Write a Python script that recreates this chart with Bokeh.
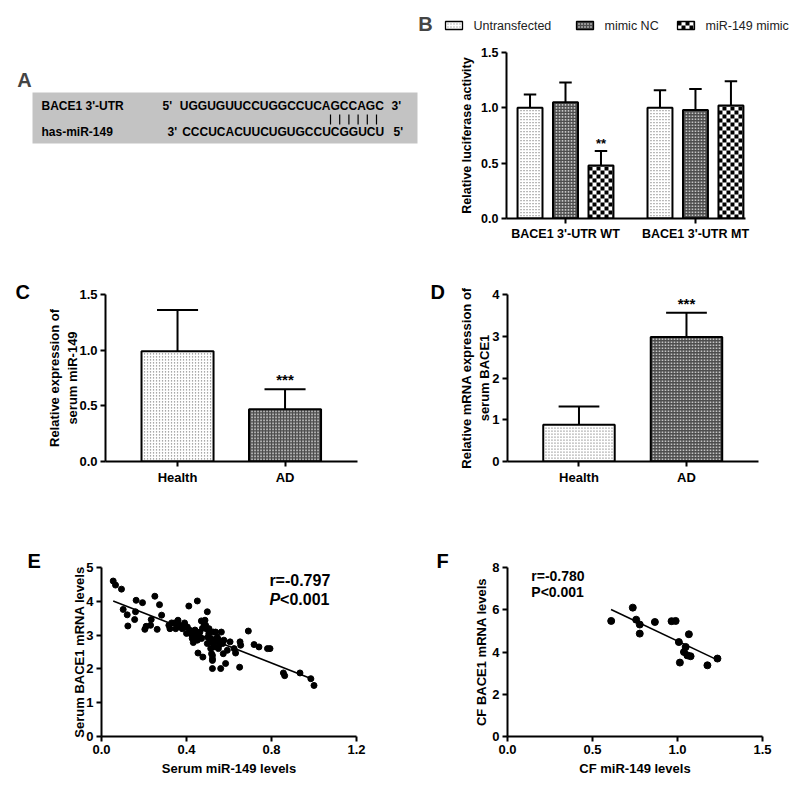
import math
from bokeh.plotting import figure
from bokeh.models import Range1d, Label, FixedTicker, PrintfTickFormatter
from bokeh.layouts import column, row
from bokeh.embed import file_html
from bokeh.resources import INLINE
from bokeh.core.properties import value

FONT = "Liberation Sans"

# ---------------- data ----------------
# Panel A (sequence alignment)
a_names = ["BACE1 3'-UTR", "has-miR-149"]
a_left_ends = ["5'", "3'"]
a_sequences = ["UGGUGUUCCUGGCCUCAGCCAGC", "CCCUCACUUCUGUGCCUCGGUCU"]
a_right_ends = ["3'", "5'"]
a_pair_count = 6

# Panel B (luciferase)
b_groups = ["BACE1 3'-UTR WT", "BACE1 3'-UTR MT"]
b_series = ["Untransfected", "mimic NC", "miR-149 mimic"]
b_untransfected = [1.00, 1.00]
b_untransfected_sd = [0.12, 0.16]
b_mimic_nc = [1.05, 0.98]
b_mimic_nc_sd = [0.18, 0.19]
b_mir149_mimic = [0.48, 1.02]
b_mir149_mimic_sd = [0.13, 0.22]
b_mir149_sig = ["**", ""]
b_yticks = [0.0, 0.5, 1.0, 1.5]

# Panel C
c_groups = ["Health", "AD"]
c_mean = [0.99, 0.47]
c_sd = [0.37, 0.18]
c_sig = ["", "***"]
c_yticks = [0.0, 0.5, 1.0, 1.5]

# Panel D
d_groups = ["Health", "AD"]
d_mean = [0.88, 2.98]
d_sd = [0.44, 0.58]
d_sig = ["", "***"]
d_yticks = [0, 1, 2, 3, 4]

# Panel E (serum scatter)
e_x = [0.055, 0.066, 0.094, 0.163, 0.193, 0.251, 0.273, 0.102, 0.121, 0.124,
       0.156, 0.160, 0.204, 0.210, 0.231, 0.234, 0.262, 0.283, 0.317, 0.322,
       0.330, 0.344, 0.349, 0.360, 0.367, 0.380, 0.391, 0.404, 0.411, 0.416,
       0.423, 0.427, 0.432, 0.451, 0.443, 0.451, 0.454, 0.463, 0.471, 0.477,
       0.482, 0.487, 0.493, 0.498, 0.500, 0.509, 0.514, 0.518, 0.522, 0.522,
       0.526, 0.537, 0.545, 0.553, 0.561, 0.564, 0.576, 0.584, 0.592, 0.490,
       0.506, 0.526, 0.553, 0.498, 0.529, 0.522, 0.522, 0.573, 0.605, 0.624,
       0.631, 0.652, 0.655, 0.650, 0.691, 0.718, 0.741, 0.781, 0.793, 0.856,
       0.862, 0.934, 0.985, 1.000, 0.400, 0.435, 0.460, 0.475, 0.505, 0.515,
       0.535, 0.550, 0.570, 0.440, 0.470, 0.390, 0.360]
e_y = [4.60, 4.48, 4.36, 4.03, 3.96, 4.15, 3.90, 3.76, 3.60, 3.27,
       3.46, 3.69, 3.17, 3.26, 3.29, 3.46, 3.17, 3.59, 3.29, 3.19,
       3.36, 3.36, 3.19, 3.44, 3.29, 3.19, 3.36, 3.24, 3.86, 3.14,
       3.02, 2.90, 2.78, 4.01, 2.94, 2.85, 2.47, 3.09, 2.90, 2.35,
       3.34, 3.44, 3.19, 3.69, 2.94, 2.80, 2.60, 2.45, 2.30, 2.01,
       2.75, 3.09, 2.94, 2.70, 2.01, 3.09, 2.85, 2.16, 2.55, 3.29,
       3.19, 3.09, 2.85, 2.75, 2.65, 2.40, 2.25, 2.45, 2.80, 2.60,
       2.47, 2.80, 2.70, 2.05, 3.12, 2.72, 2.65, 2.60, 2.60, 1.88,
       1.80, 1.88, 1.71, 1.51, 3.05, 3.00, 2.98, 3.20, 3.05, 2.90,
       2.85, 2.60, 2.75, 3.15, 3.42, 3.30, 3.25]
e_fit_x = [0.055, 1.0]
e_fit_y = [4.01, 1.68]
e_r_text = "r=-0.797"
e_p_symbol = "P"
e_p_text = "<0.001"

# Panel F (CF scatter)
f_x = [0.610, 0.737, 0.757, 0.778, 0.778, 0.867, 0.965, 0.989, 1.067, 1.008,
       1.048, 1.038, 1.058, 1.077, 1.014, 1.176, 1.235]
f_y = [5.47, 6.10, 5.53, 5.30, 4.87, 5.42, 5.46, 5.47, 4.84, 4.47,
       4.24, 4.00, 3.84, 3.80, 3.50, 3.37, 3.69]
f_fit_x = [0.609, 1.231]
f_fit_y = [6.01, 3.64]
f_r_text = "r=-0.780"
f_p_text = "P<0.001"

# ---------------- fill patterns (drawn as marks) ----------------
SERIES_KEYS = ["dots", "fine", "checker"]
BASE_FILL = {"dots": "white", "fine": "#4d4d4d", "checker": "white"}


def dot_grid(x0, x1, y0, y1, sx, sy, step, inset):
    w = (x1 - x0) * sx - 2 * inset
    h = (y1 - y0) * sy - 2 * inset
    nx, ny = int(w // step) + 1, int(h // step) + 1
    if w <= 0 or h <= 0:
        return [], []
    ox = inset + (w - (nx - 1) * step) / 2
    oy = inset + (h - (ny - 1) * step) / 2
    xs, ys = [], []
    for i in range(nx):
        for j in range(ny):
            xs.append(x0 + (ox + i * step) / sx)
            ys.append(y0 + (oy + j * step) / sy)
    return xs, ys


def draw_pattern(p, key, x0, x1, y0, y1, sx, sy):
    if key == "dots":
        xs, ys = dot_grid(x0, x1, y0, y1, sx, sy, 3, 2)
        p.scatter(xs, ys, marker="square", size=1.2, fill_color="#8c8c8c", line_color=None)
    elif key == "fine":
        xs, ys = dot_grid(x0, x1, y0, y1, sx, sy, 3, 2)
        p.scatter(xs, ys, marker="square", size=1.6, fill_color="#c4c4c4", line_color=None)
    else:
        cell = 4
        W, H = (x1 - x0) * sx, (y1 - y0) * sy
        L, R, T, B = [], [], [], []
        for i in range(math.ceil(W / cell)):
            for j in range(math.ceil(H / cell)):
                if (i + j) % 2 == 0:
                    L.append(x0 + i * cell / sx)
                    R.append(min(x1, x0 + (i + 1) * cell / sx))
                    B.append(y0 + j * cell / sy)
                    T.append(min(y1, y0 + (j + 1) * cell / sy))
        p.quad(left=L, right=R, top=T, bottom=B, fill_color="black", line_color=None)


def patterned_bars(p, xs, tops, key, width, sx, sy):
    p.vbar(x=xs, top=tops, bottom=0, width=width, fill_color=BASE_FILL[key], line_color=None)
    for x, t in zip(xs, tops):
        draw_pattern(p, key, x - width / 2, x + width / 2, 0, t, sx, sy)
    p.vbar(x=xs, top=tops, bottom=0, width=width, fill_color=None,
           line_color="black", line_width=2)


def err_bars(p, xs, means, sds, cap):
    tops = [m + s for m, s in zip(means, sds)]
    p.segment(x0=xs, x1=xs, y0=means, y1=tops, line_color="black", line_width=2)
    p.segment(x0=[x - cap / 2 for x in xs], x1=[x + cap / 2 for x in xs],
              y0=tops, y1=tops, line_color="black", line_width=2)
    return tops


def plain_fig(width, height, xr, yr, **borders):
    p = figure(width=width, height=height, x_range=xr, y_range=yr,
               output_backend="svg", toolbar_location=None,
               x_axis_location=None, y_axis_location=None, **borders)
    p.grid.visible = False
    p.outline_line_color = None
    return p


def base_fig(width, height, xr, yr, left, right, top, bottom, letter, letter_offset, letter_standoff):
    p = figure(width=width, height=height, x_range=xr, y_range=yr,
               output_backend="svg", toolbar_location=None, title=letter,
               min_border_left=left, min_border_right=right,
               min_border_top=top, min_border_bottom=bottom)
    p.grid.visible = False
    p.outline_line_color = None
    p.title.align = "left"
    p.title.offset = letter_offset
    p.title.standoff = letter_standoff
    p.title.text_font = FONT
    p.title.text_font_style = "bold"
    p.title.text_font_size = "20px"
    p.title.text_color = "black"
    return p


def style_axes(p, tick_size="13px", label_size="13px"):
    for ax in p.axis:
        ax.axis_line_width = 2
        ax.axis_line_color = "black"
        ax.major_tick_line_width = 2
        ax.major_tick_line_color = "black"
        ax.major_tick_out = 5
        ax.major_tick_in = 0
        ax.minor_tick_line_color = None
        ax.major_label_text_font = FONT
        ax.major_label_text_font_style = "bold"
        ax.major_label_text_font_size = tick_size
        ax.major_label_text_color = "black"
        ax.major_label_standoff = 3
        ax.axis_label_text_font = FONT
        ax.axis_label_text_font_style = "bold"
        ax.axis_label_text_font_size = label_size
        ax.axis_label_text_color = "black"
        ax.axis_label_standoff = 4


# ---------------- header strip: letter B + legend of panel B ----------------
ph = plain_fig(800, 44, Range1d(0, 800), Range1d(44, 0), min_border=0)
ph.add_layout(Label(x=425, y=23, text="B", text_font=FONT, text_font_style="bold",
                    text_font_size="20px", text_align="center", text_baseline="middle"))
key_left = [445, 576, 677]
key_w, key_top, key_bot, key_gap = 17, 21, 29, 11
for left, key in zip(key_left, SERIES_KEYS):
    ph.quad(left=[left], right=[left + key_w], top=[key_top], bottom=[key_bot],
            fill_color=BASE_FILL[key], line_color=None)
    draw_pattern(ph, key, left, left + key_w, key_top, key_bot, 1, 1)
    ph.quad(left=[left], right=[left + key_w], top=[key_top], bottom=[key_bot],
            fill_color=None, line_color="black", line_width=1.3)
ph.text(x=[l + key_w + key_gap for l in key_left], y=[25] * len(b_series), text=b_series,
        text_font=value(FONT), text_font_size="12.5px", text_align="left",
        text_baseline="middle", text_color="#222222")

# ---------------- Panel A ----------------
pa = plain_fig(440, 212, Range1d(0, 440), Range1d(218, 52),
               min_border_left=0, min_border_right=0, min_border_top=8, min_border_bottom=38)
pa.quad(left=[32], right=[417], top=[92], bottom=[143], fill_color="#c3c3c3", line_color=None)
row_y = [105, 131]
txt = dict(text_font=value(FONT), text_font_style="bold", text_font_size="12px",
           text_baseline="middle", text_align="left", text_color="black")
pa.text(x=[41, 41], y=row_y, text=a_names, **txt)
pa.text(x=[162, 167], y=row_y, text=a_left_ends, **txt)
pa.text(x=[179.3, 181.7], y=row_y, text=a_sequences, **txt)
pa.text(x=[391, 393], y=row_y, text=a_right_ends, **txt)
pair_x = [330 + 9.2 * i for i in range(a_pair_count)]
pa.segment(x0=pair_x, x1=pair_x, y0=[114] * a_pair_count, y1=[124] * a_pair_count,
           line_color="black", line_width=1.2)
pa.add_layout(Label(x=24, y=79, text="A", text_font=FONT, text_font_style="bold",
                    text_font_size="20px", text_align="center", text_baseline="middle"))

# ---------------- Panel B ----------------
B_OFF = 0.273
B_W = 0.192
B_XR, B_YR = Range1d(-0.454, 1.385), Range1d(0, 1.5)
B_FRAME_W, B_FRAME_H = 239, 166
pb = figure(width=360, height=212, x_range=B_XR, y_range=B_YR,
            output_backend="svg", toolbar_location=None,
            min_border_left=66, min_border_right=55, min_border_top=8, min_border_bottom=38)
pb.grid.visible = False
pb.outline_line_color = None
b_sx = B_FRAME_W / (B_XR.end - B_XR.start)
b_sy = B_FRAME_H / (B_YR.end - B_YR.start)
series_vals = [(b_untransfected, b_untransfected_sd),
               (b_mimic_nc, b_mimic_nc_sd),
               (b_mir149_mimic, b_mir149_mimic_sd)]
for si, ((vals, sds), key) in enumerate(zip(series_vals, SERIES_KEYS)):
    xs = [g + (si - 1) * B_OFF for g in range(len(b_groups))]
    patterned_bars(pb, xs, vals, key, B_W, b_sx, b_sy)
    tops = err_bars(pb, xs, vals, sds, B_W * 0.5)
    if si == 2:
        pb.text(x=xs, y=tops, text=b_mir149_sig, text_font=value(FONT), text_font_style="bold",
                text_font_size="13px", text_align="center", text_baseline="bottom")
pb.xaxis.ticker = FixedTicker(ticks=list(range(len(b_groups))))
pb.xaxis.major_label_overrides = {i: g for i, g in enumerate(b_groups)}
pb.yaxis.ticker = FixedTicker(ticks=b_yticks)
pb.yaxis.formatter = PrintfTickFormatter(format="%.1f")
pb.yaxis.axis_label = "Relative luciferase activity"
style_axes(pb, tick_size="12.5px", label_size="12.5px")


# ---------------- Panels C, D ----------------
def bar_panel(width, left, right, xr, groups, means, sds, sig, yticks, ymax, ylabel,
              bar_w, letter, letter_offset, fmt, label_standoff):
    yr = Range1d(0, ymax)
    p = base_fig(width, 256, xr, yr, left, right, 38, 51, letter, letter_offset, -17)
    sx = (width - left - right) / (xr.end - xr.start)
    sy = (256 - 38 - 51) / (yr.end - yr.start)
    xs = list(range(len(groups)))
    for i in xs:
        patterned_bars(p, [i], [means[i]], SERIES_KEYS[i], bar_w, sx, sy)
    tops = err_bars(p, xs, means, sds, bar_w * 0.57)
    p.text(x=xs, y=tops, text=sig, text_font=value(FONT), text_font_style="bold",
           text_font_size="15px", text_align="center", text_baseline="bottom", y_offset=-1)
    p.xaxis.ticker = FixedTicker(ticks=xs)
    p.xaxis.major_label_overrides = {i: g for i, g in enumerate(groups)}
    p.yaxis.ticker = FixedTicker(ticks=yticks)
    if fmt:
        p.yaxis.formatter = PrintfTickFormatter(format=fmt)
    p.yaxis.axis_label = ylabel
    style_axes(p)
    p.yaxis.axis_label_standoff = label_standoff
    return p


pc = bar_panel(404, 105, 47, Range1d(-0.67, 1.674), c_groups, c_mean, c_sd, c_sig,
               c_yticks, 1.5, "Relative expression of\nserum miR-149", 0.67, "C", -90, "%.1f", -4)
pd_ = bar_panel(396, 103, 42, Range1d(-0.665, 1.67), d_groups, d_mean, d_sd, d_sig,
                d_yticks, 4, "Relative mRNA expression of\nserum BACE1", 0.665, "D", -77, None, -3)

# ---------------- Panel E ----------------
pe = base_fig(404, 278, Range1d(0, 1.2), Range1d(0, 5), 101, 48, 55, 54, "E", -74, -9)
pe.scatter(e_x, e_y, size=6, color="black")
pe.line(e_fit_x, e_fit_y, line_color="black", line_width=1.6)
pe.xaxis.ticker = FixedTicker(ticks=[0.0, 0.4, 0.8, 1.2])
pe.xaxis.formatter = PrintfTickFormatter(format="%.1f")
pe.yaxis.ticker = FixedTicker(ticks=[0, 1, 2, 3, 4, 5])
pe.xaxis.axis_label = "Serum miR-149 levels"
pe.yaxis.axis_label = "Serum BACE1 mRNA levels"
style_axes(pe)
pe.yaxis.axis_label_standoff = -4
stat = dict(text_font=FONT, text_font_style="bold", text_baseline="middle",
            text_align="left", text_color="black")
pe.add_layout(Label(x=0.79, y=4.62, text=e_r_text, text_font_size="16px", **stat))
pe.add_layout(Label(x=0.79, y=4.06, text=e_p_symbol, text_font_size="16px",
                    text_font=FONT, text_font_style="bold italic", text_baseline="middle",
                    text_align="left", text_color="black"))
pe.add_layout(Label(x=0.79, y=4.06, x_offset=10.7, text=e_p_text, text_font_size="16px", **stat))

# ---------------- Panel F ----------------
pf = base_fig(396, 278, Range1d(0, 1.5), Range1d(0, 8), 103, 38, 55, 54, "F", -71, -9)
pf.scatter(f_x, f_y, size=7, color="black")
pf.line(f_fit_x, f_fit_y, line_color="black", line_width=1.6)
pf.xaxis.ticker = FixedTicker(ticks=[0.0, 0.5, 1.0, 1.5])
pf.xaxis.formatter = PrintfTickFormatter(format="%.1f")
pf.yaxis.ticker = FixedTicker(ticks=[0, 2, 4, 6, 8])
pf.xaxis.axis_label = "CF miR-149 levels"
pf.yaxis.axis_label = "CF BACE1 mRNA levels"
style_axes(pf)
pf.yaxis.axis_label_standoff = 0
pf.add_layout(Label(x=0.14, y=7.59, text=f_r_text, text_font_size="14px", **stat))
pf.add_layout(Label(x=0.14, y=6.83, text=f_p_text, text_font_size="14px", **stat))

layout = column(ph, row(pa, pb), row(pc, pd_), row(pe, pf))
open("out.html", "w").write(file_html(layout, INLINE))
